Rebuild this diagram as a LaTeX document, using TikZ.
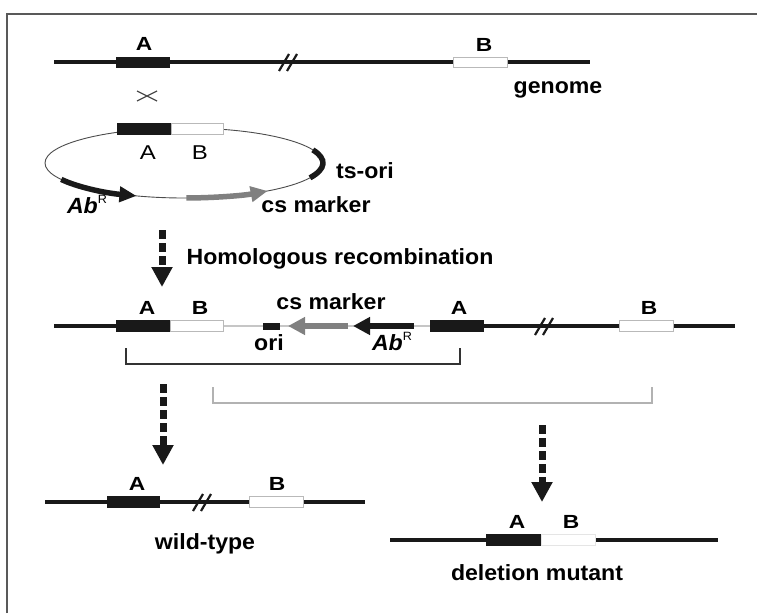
\documentclass[tikz,border=0pt]{standalone}
\usepackage{fontspec}
\setmainfont{Liberation Sans}
\newfontfamily\lbfont[FakeStretch=1.2]{Liberation Sans}
\newfontfamily\dsfont[FakeStretch=1.05]{Liberation Sans}
\usetikzlibrary{arrows.meta}
\tikzset{
  gline/.style={line width=3.2pt, draw=black!90},
  bbox/.style={rectangle, fill=black!90, inner sep=0pt, minimum height=11pt},
  wbox/.style={rectangle, fill=white, draw=gray!55, line width=0.9pt, inner sep=0pt, minimum height=10pt},
  lab/.style={font=\lbfont\bfseries\fontsize{19}{21}\selectfont, anchor=base, inner sep=0pt},
  plab/.style={font=\lbfont\fontsize{20}{22}\selectfont, anchor=base, inner sep=0pt},
  desc/.style={font=\dsfont\bfseries\fontsize{22}{24}\selectfont, anchor=base, inner sep=0pt},
  thinline/.style={line width=1.2pt, draw=gray!45},
  dasharrow/.style={line width=7pt, draw=black!90, dash pattern=on 9pt off 4pt,
    -{Triangle[length=20pt,width=20pt]}},
  brk/.pic={\draw[line width=2.2pt, black!90] (-9,9) -- (1,-8) (-1,9) -- (9,-8);},
  bracket/.style={line width=1.5pt},
}
\newcommand\abr{{\itshape Ab}\raisebox{0.45em}{\mdseries\fontsize{12}{13}\selectfont R}}
\begin{document}
\begin{tikzpicture}[x=1pt,y=-1pt]
\useasboundingbox (0,0) rectangle (757,613);
% frame
\coordinate (fr1) at (7,613); \coordinate (fr2) at (7,14); \coordinate (fr3) at (757,14);
\draw[line width=1.3pt, black!65] (fr1) -- (fr2) -- (fr3);

% ---------- Row 1: genome ----------
\coordinate (g1L) at (54,62); \coordinate (g1R) at (590,62);
\draw[gline] (g1L) -- (g1R);
\node[bbox, minimum width=54pt] (g1A) at (143,62) {};
\node[wbox, minimum width=54pt] (g1B) at (480.5,62) {};
\pic at (288,62) {brk};
\node[lab] (g1Alab) at (144,50) {A};
\node[lab] (g1Blab) at (484,51) {B};
\node[desc] (genome) at (558,93) {genome};

% crossover
\coordinate (cx) at (147,96);
\draw[line width=1.2pt, black!70] ([shift={(-10,-5)}]cx) -- ([shift={(10,5)}]cx)
  ([shift={(-10,5)}]cx) -- ([shift={(10,-5)}]cx);

% ---------- Plasmid ----------
\coordinate (pc) at (184,163);
\draw[line width=0.9pt, black!70] (pc) ellipse [x radius=139, y radius=35];
\node[bbox, minimum width=54pt, minimum height=12pt] (pA) at (144,129) {};
\node[wbox, minimum width=52pt, minimum height=11pt] (pB) at (197,129) {};
\node[plab] (pAlab) at (148,159) {A};
\node[plab] (pBlab) at (200,159) {B};
\draw[line width=5.5pt, black!90] ([shift={(-22:139 and 35)}]pc)
  arc[start angle=-22, end angle=25, x radius=139, y radius=35];
\draw[line width=5.5pt, black!90, -{Triangle[length=17pt,width=15pt]}] ([shift={(152:139 and 35)}]pc)
  arc[start angle=152, end angle=110, x radius=139, y radius=35];
\draw[line width=5.5pt, black!50, -{Triangle[length=17pt,width=15pt]}] ([shift={(89:139 and 35)}]pc)
  arc[start angle=89, end angle=53, x radius=139, y radius=35];
\node[desc] (tsori) at (365,178) {ts-ori};
\node[desc] (csm1) at (316,212) {cs marker};
\node[desc] (abr1) at (87,213) {\abr};

% ---------- arrow: homologous recombination ----------
\coordinate (d1s) at (162,230); \coordinate (d1e) at (162,287);
\draw[dasharrow] (d1s) -- (d1e);
\node[desc] (homrec) at (340,264) {Homologous recombination};

% ---------- Row 3: integrated ----------
\coordinate (r3L) at (54,326); \coordinate (r3a) at (116,326);
\coordinate (r3t1) at (223,326); \coordinate (r3t2) at (430,326);
\coordinate (r3b) at (484,326); \coordinate (r3R) at (735,326);
\draw[gline] (r3L) -- (r3a);
\draw[thinline] (r3t1) -- (r3t2);
\draw[gline] (r3b) -- (r3R);
\node[bbox, minimum width=54pt, minimum height=12pt] (r3A) at (143,326) {};
\node[wbox, minimum width=53pt, minimum height=11pt] (r3B) at (196.5,326) {};
\node[bbox, minimum width=17pt, minimum height=7pt] (ori) at (271.5,326) {};
\coordinate (gas) at (348,326); \coordinate (gae) at (288,326);
\draw[line width=6.5pt, black!50, -{Triangle[length=17pt,width=17pt]}] (gas) -- (gae);
\coordinate (bas) at (414,326); \coordinate (bae) at (353,326);
\draw[line width=6.5pt, black!90, -{Triangle[length=17pt,width=17pt]}] (bas) -- (bae);
\node[bbox, minimum width=54pt, minimum height=12pt] (r3A2) at (457,326) {};
\node[wbox, minimum width=54pt, minimum height=11pt] (r3B2) at (646,326) {};
\pic at (544,326) {brk};
\node[lab] (r3Alab) at (147,314) {A};
\node[lab] (r3Blab) at (200,314) {B};
\node[desc] (csm2) at (331,309) {cs marker};
\node[lab] (r3A2lab) at (459,314) {A};
\node[lab] (r3B2lab) at (649,314) {B};
\node[desc] (orilab) at (269,350) {ori};
\node[desc] (abr2) at (392,350) {\abr};

% brackets
\coordinate (b1a) at (126,348); \coordinate (b1b) at (126,364);
\coordinate (b1c) at (460,364); \coordinate (b1d) at (460,348);
\draw[bracket, black!80] (b1a) -- (b1b) -- (b1c) -- (b1d);
\coordinate (b2a) at (213,387); \coordinate (b2b) at (213,403);
\coordinate (b2c) at (652,403); \coordinate (b2d) at (652,387);
\draw[bracket, gray!60] (b2a) -- (b2b) -- (b2c) -- (b2d);

% dashed arrows down
\coordinate (d2s) at (163,384); \coordinate (d2e) at (163,465);
\draw[dasharrow] (d2s) -- (d2e);
\coordinate (d3s) at (542,425); \coordinate (d3e) at (542,502);
\draw[dasharrow] (d3s) -- (d3e);

% ---------- Row 4: wild-type ----------
\coordinate (r4L) at (45,502); \coordinate (r4R) at (365,502);
\draw[gline] (r4L) -- (r4R);
\node[bbox, minimum width=53pt, minimum height=12pt] (r4A) at (133.5,502) {};
\node[wbox, minimum width=54pt, minimum height=11pt] (r4B) at (276,502) {};
\pic at (202,502) {brk};
\node[lab] (r4Alab) at (137,490) {A};
\node[lab] (r4Blab) at (277,490) {B};
\node[desc] (wt) at (205,549) {wild-type};

% ---------- Row 5: deletion mutant ----------
\coordinate (r5L) at (390,540); \coordinate (r5a) at (486,540);
\coordinate (r5b) at (595,540); \coordinate (r5R) at (718,540);
\draw[gline] (r5L) -- (r5a);
\draw[gline] (r5b) -- (r5R);
\node[bbox, minimum width=55pt, minimum height=12pt] (r5A) at (513.5,540) {};
\node[wbox, draw=gray!20, minimum width=54pt, minimum height=11pt] (r5B) at (568,540) {};
\node[lab] (r5Alab) at (517,528) {A};
\node[lab] (r5Blab) at (571,528) {B};
\node[desc] (delmut) at (537,580) {deletion mutant};
\end{tikzpicture}
\end{document}
